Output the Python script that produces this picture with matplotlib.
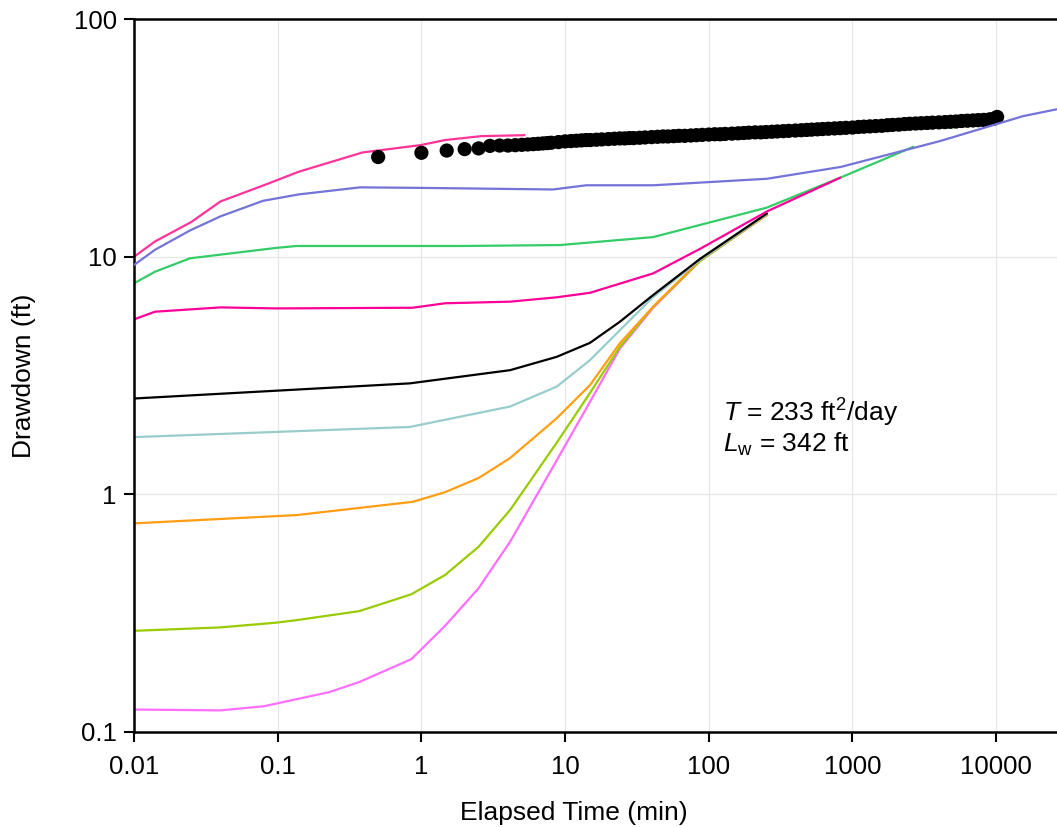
import matplotlib
matplotlib.use("Agg")
import matplotlib.pyplot as plt
from matplotlib.ticker import FixedLocator, NullLocator

# model curves: elapsed time (min) and drawdown (ft)
t_pink = [0.01, 0.014, 0.025, 0.04, 0.08, 0.14, 0.39, 0.98, 1.46, 2.6, 5.2]
s_pink = [10.0, 11.6, 14.0, 17.1, 20.0, 22.8, 27.5, 29.5, 31.0, 32.2, 32.5]

t_blue = [0.01, 0.014, 0.0245, 0.04, 0.079, 0.14, 0.374, 0.98, 8.24, 14.1, 41.3, 254, 832, 4065, 15400, 26500]
s_blue = [9.23, 10.7, 12.9, 14.8, 17.2, 18.3, 19.6, 19.5, 19.2, 20.0, 20.0, 21.3, 23.9, 30.7, 39.1, 41.8]

t_green = [0.01, 0.014, 0.0245, 0.098, 0.135, 1.86, 9.2, 41, 253, 818, 2640]
s_green = [7.73, 8.65, 9.85, 10.9, 11.1, 11.1, 11.2, 12.1, 16.1, 21.5, 29.0]

t_magenta = [0.01, 0.014, 0.04, 0.098, 0.87, 1.46, 4.14, 8.75, 14.9, 41, 87, 253, 818]
s_magenta = [5.45, 5.87, 6.12, 6.06, 6.1, 6.37, 6.47, 6.75, 7.05, 8.51, 10.8, 15.5, 21.5]

t_black = [0.01, 0.83, 4.14, 8.75, 14.9, 24.1, 41, 87, 253]
s_black = [2.53, 2.93, 3.33, 3.79, 4.34, 5.33, 6.90, 9.8, 15.2]

t_teal = [0.01, 0.098, 0.83, 4.14, 8.75, 14.9, 24.1, 41, 87, 253]
s_teal = [1.74, 1.83, 1.92, 2.34, 2.84, 3.67, 4.91, 6.77, 9.7, 15.1]

t_orange = [0.01, 0.135, 0.87, 1.46, 2.5, 4.14, 8.75, 14.9, 24.1, 41, 87, 253]
s_orange = [0.754, 0.817, 0.929, 1.02, 1.17, 1.42, 2.09, 2.88, 4.33, 6.16, 9.7, 15.0]

t_ygreen = [0.01, 0.04, 0.098, 0.135, 0.37, 0.85, 1.46, 2.5, 4.14, 8.75, 14.9, 24.1, 41, 87, 253]
s_ygreen = [0.266, 0.275, 0.288, 0.295, 0.322, 0.379, 0.457, 0.601, 0.858, 1.65, 2.67, 4.18, 6.16, 9.6, 15.0]

t_violet = [0.01, 0.04, 0.08, 0.23, 0.37, 0.85, 1.46, 2.5, 4.14, 8.75, 14.9, 24.1, 41, 87, 253]
s_violet = [0.124, 0.123, 0.128, 0.147, 0.162, 0.202, 0.279, 0.402, 0.631, 1.39, 2.45, 4.11, 6.1, 9.6, 15.0]

# observed drawdown
t_obs = [0.5, 1, 1.5, 2, 2.5, 3, 3.5, 4, 4.5, 5, 5.5, 6, 6.5, 7, 7.5, 8, 9, 10, 11, 12, 13,
         14, 15, 16.5, 18, 20, 22, 24, 26, 28, 30, 33, 36, 40, 44, 48, 52, 57, 62, 68, 75,
         82, 90, 100, 110, 120, 130, 145, 160, 175, 190, 210, 230, 250, 275, 300, 330, 360,
         400, 440, 480, 520, 570, 620, 680, 750, 820, 900, 1000, 1100, 1200, 1320, 1450,
         1600, 1750, 1900, 2100, 2300, 2500, 2750, 3000, 3300, 3600, 4000, 4400, 4800, 5250,
         5750, 6300, 6900, 7500, 8200, 9000, 9600, 10150]
s_obs = [26.3, 27.4, 28.0, 28.4, 28.6, 29.3, 29.4, 29.4, 29.5, 29.6, 29.7, 29.8, 29.9, 30.0,
         30.1, 30.2, 30.4, 30.6, 30.7, 30.8, 30.9, 31.0, 31.0, 31.1, 31.2, 31.3, 31.4, 31.5,
         31.5, 31.6, 31.6, 31.7, 31.8, 31.9, 32.0, 32.1, 32.1, 32.2, 32.3, 32.3, 32.4, 32.5,
         32.6, 32.7, 32.8, 32.8, 32.9, 33.0, 33.1, 33.2, 33.3, 33.4, 33.4, 33.5, 33.6, 33.7,
         33.8, 33.9, 34.0, 34.1, 34.2, 34.3, 34.4, 34.5, 34.6, 34.7, 34.8, 34.9, 35.0, 35.2,
         35.3, 35.4, 35.5, 35.6, 35.8, 35.9, 36.0, 36.2, 36.3, 36.4, 36.5, 36.6, 36.7, 36.8,
         36.9, 37.0, 37.1, 37.3, 37.4, 37.5, 37.6, 37.7, 37.9, 38.1, 38.8]

x_ticks = [0.01, 0.1, 1, 10, 100, 1000, 10000]
x_labels = ["0.01", "0.1", "1", "10", "100", "1000", "10000"]
y_ticks = [0.1, 1, 10, 100]
y_labels = ["0.1", "1", "10", "100"]

plt.rcParams.update({"font.family": "Liberation Sans", "font.size": 18.5,
                     "mathtext.fontset": "custom", "mathtext.rm": "Liberation Sans",
                     "mathtext.it": "Liberation Sans:italic"})

fig = plt.figure(figsize=(10.57, 8.27), dpi=100)
ax = fig.add_axes([0.1268, 0.1152, 0.8732, 0.8615])

curves = [
    (t_violet, s_violet, "#FF6EFF"),
    (t_ygreen, s_ygreen, "#99CC00"),
    (t_orange, s_orange, "#FF9E12"),
    (t_teal, s_teal, "#99CCCC"),
    (t_black, s_black, "#000000"),
    (t_green, s_green, "#33CC66"),
    (t_magenta, s_magenta, "#FF0099"),
    (t_pink, s_pink, "#FF3399"),
]
for i, (t, s, c) in enumerate(curves):
    ax.plot(t, s, color=c, lw=1.6, zorder=2 + i * 0.01)

ax.scatter(t_obs, s_obs, s=105, color="black", edgecolors="none", zorder=3)
ax.plot(t_blue, s_blue, color="#7373D8", lw=1.6, zorder=4)

ax.set_xscale("log")
ax.set_yscale("log")
ax.set_xlim(0.01, 26500)
ax.set_ylim(0.1, 100)
ax.xaxis.set_major_locator(FixedLocator(x_ticks))
ax.yaxis.set_major_locator(FixedLocator(y_ticks))
ax.xaxis.set_minor_locator(NullLocator())
ax.yaxis.set_minor_locator(NullLocator())
ax.set_xticklabels(x_labels)
ax.set_yticklabels(y_labels)
ax.tick_params(direction="out", length=7.5, width=1.5, labelsize=18.5)
ax.tick_params(axis="x", pad=9)
ax.tick_params(axis="y", pad=5)
ax.grid(True, which="major", color="#E6E6E6", lw=0.8)
ax.set_axisbelow(True)
for side in ["left", "bottom", "top"]:
    ax.spines[side].set_linewidth(1.8)
ax.spines["right"].set_visible(False)

ax.set_xlabel("Elapsed Time (min)", fontsize=19, labelpad=16, x=0.476)
ax.set_ylabel("Drawdown (ft)", fontsize=19, labelpad=27)

ax.text(125, 2.2, r"$T$ = 233 ft$^2$/day", fontsize=19, ha="left", va="center")
ax.text(125, 1.62, r"$L_{\mathrm{w}}$ = 342 ft", fontsize=19, ha="left", va="center")

fig.savefig("out.png", dpi=100)
